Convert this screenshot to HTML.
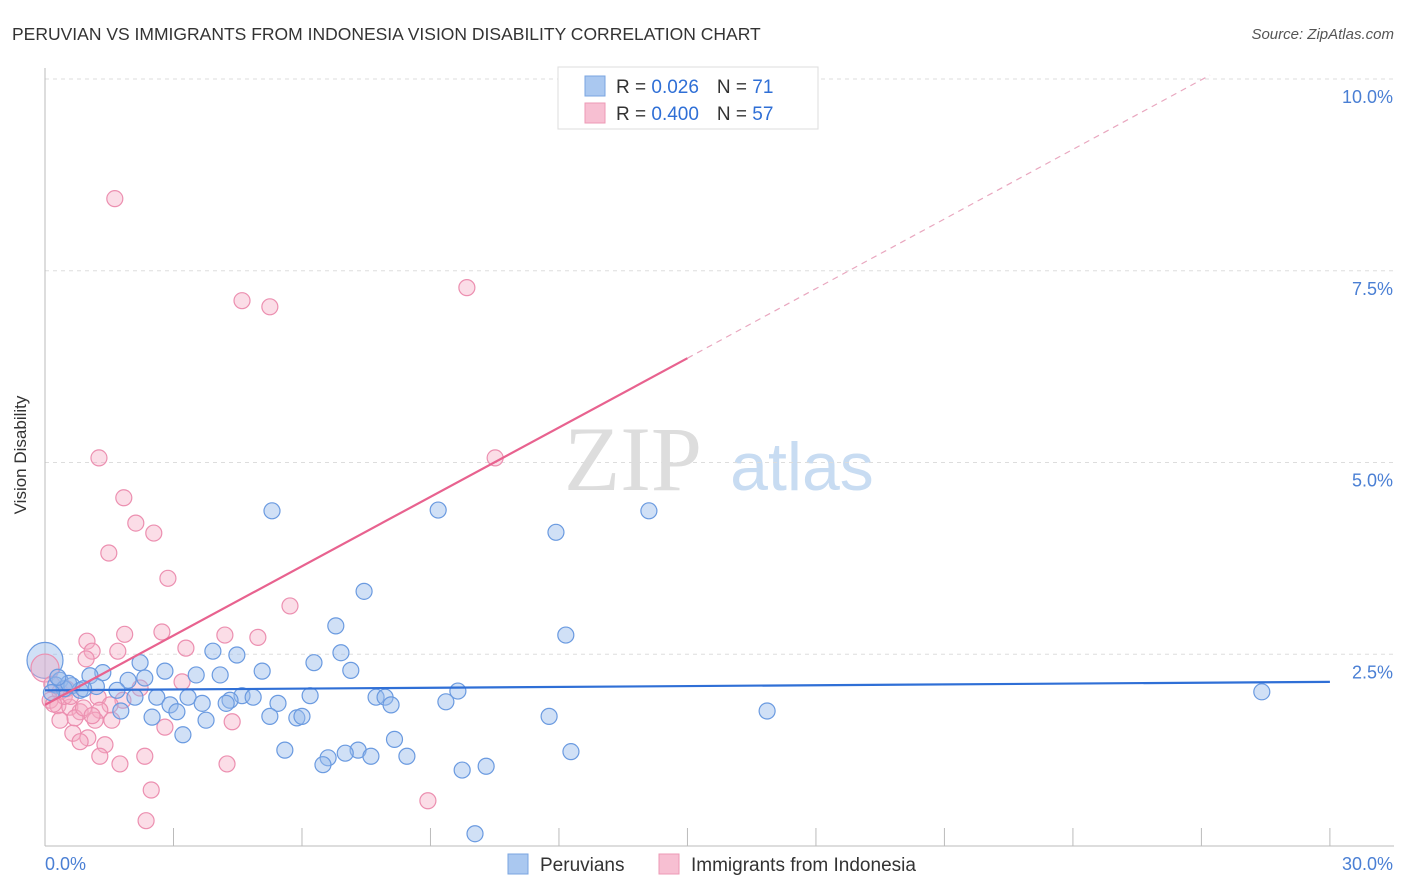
<!DOCTYPE html>
<html><head><meta charset="utf-8"><style>
body{margin:0;background:#fff;font-family:"Liberation Sans",sans-serif;}
#wrap{position:relative;width:1406px;height:892px;overflow:hidden;}
</style></head><body>
<div id="wrap">
<svg id="chart" width="1406" height="892">
<text x="12" y="40" font-size="17.5" fill="#333">PERUVIAN VS IMMIGRANTS FROM INDONESIA VISION DISABILITY CORRELATION CHART</text>
<text x="1394" y="39" font-size="15" fill="#555" font-style="italic" text-anchor="end">Source: ZipAtlas.com</text>
<text x="26" y="455" font-size="17" fill="#333" text-anchor="middle" transform="rotate(-90 26 455)">Vision Disability</text>
<text x="633" y="490" font-size="92" fill="#ddd" font-family="Liberation Serif" text-anchor="middle">ZIP</text>
<text x="802" y="490" font-size="68" fill="#c8dcf2" text-anchor="middle">atlas</text>
<g id="grid"></g><g id="ticks"></g><g id="pts"></g><g id="lines"></g>
<g>
<rect x="558" y="67" width="260" height="62" fill="#fff" stroke="#ddd"/>
<rect x="585" y="76" width="20" height="20" fill="#aac8f0" stroke="#7aa5e0"/>
<rect x="585" y="103" width="20" height="20" fill="#f7bfd2" stroke="#ec9ab5"/>
<text x="616" y="93" font-size="19" fill="#333">R = <tspan fill="#2f6fd6">0.026</tspan><tspan dx="18">N = </tspan><tspan fill="#2f6fd6">71</tspan></text>
<text x="616" y="120" font-size="19" fill="#333">R = <tspan fill="#2f6fd6">0.400</tspan><tspan dx="18">N = </tspan><tspan fill="#2f6fd6">57</tspan></text>
</g>
<g>
<rect x="508" y="854" width="20" height="20" fill="#aac8f0" stroke="#7aa5e0"/>
<text x="540" y="871" font-size="19" fill="#333">Peruvians</text>
<rect x="659" y="854" width="20" height="20" fill="#f7bfd2" stroke="#ec9ab5"/>
<text x="691" y="871" font-size="19" fill="#333">Immigrants from Indonesia</text>
</g>
</svg>
</div>
<script>
const xTicks=[0,3,6,9,12,15,18,21,24,27,30];
const yTicks=[2.5,5,7.5,10];
const yTickLabels=["2.5%","5.0%","7.5%","10.0%"];
const blueX=[5.30,9.18,11.93,14.10,7.45,6.79,12.16,6.91,6.28,7.14,4.48,3.92,5.07,2.22,2.80,3.53,4.09,1.35,1.05,2.33,1.94,0.35,0.63,0.82,1.68,2.10,2.61,3.34,4.60,4.86,4.32,3.67,4.23,5.44,6.19,7.73,7.94,8.08,9.36,9.64,2.92,3.08,1.77,2.50,3.76,5.25,5.88,6.00,11.77,16.86,28.41,3.22,5.60,8.16,7.31,7.01,6.61,6.49,7.61,8.45,12.28,9.74,10.30,10.04,0.25,0.45,0.15,0.55,0.3,1.2,0.9];
const blueY=[4.37,4.38,4.09,4.37,3.32,2.87,2.75,2.52,2.39,2.29,2.49,2.54,2.28,2.39,2.28,2.23,2.23,2.26,2.22,2.19,2.16,2.16,2.09,2.03,2.03,1.94,1.94,1.94,1.96,1.94,1.90,1.86,1.86,1.86,1.96,1.94,1.94,1.84,1.88,2.02,1.84,1.75,1.76,1.68,1.64,1.69,1.67,1.69,1.69,1.76,2.01,1.45,1.25,1.39,1.25,1.21,1.15,1.06,1.17,1.17,1.23,0.99,1.04,0.16,2.10,2.05,2.00,2.12,2.20,2.08,2.05];
const pinkX=[1.63,4.60,5.25,9.85,1.26,10.51,1.84,2.12,2.54,1.49,2.87,5.72,1.86,2.73,4.20,4.97,0.98,3.29,1.10,1.70,0.96,3.20,2.22,0.16,0.35,0.12,1.24,1.82,1.52,0.30,0.58,0.82,1.28,0.70,0.35,1.17,1.56,4.37,2.80,0.65,1.00,0.82,1.40,1.28,2.33,1.75,4.25,2.48,2.36,8.94,0.45,0.5,0.2,0.9,1.1,0.6];
const pinkY=[8.44,7.11,7.03,7.28,5.06,5.06,4.54,4.21,4.08,3.82,3.49,3.13,2.76,2.79,2.75,2.72,2.67,2.58,2.54,2.54,2.44,2.14,2.06,2.11,2.01,1.90,1.94,1.90,1.84,1.83,1.81,1.75,1.77,1.67,1.64,1.64,1.64,1.62,1.55,1.47,1.41,1.36,1.32,1.17,1.17,1.07,1.07,0.73,0.33,0.59,1.95,2.05,1.85,1.80,1.70,1.95];
const bigBlue=[0,2.42], bigPink=[0,2.32];
const blueLine=[[0,2.03],[30,2.14]];
const pinkLine=[[0,1.84],[15,6.36]];
const pinkDash=[[15,6.36],[27.2,10.05]];
const NS="http://www.w3.org/2000/svg";
const X=v=>45+v*42.83, Y=v=>846-v*76.7;
function mk(tag,attrs,parent){const e=document.createElementNS(NS,tag);for(const k in attrs)e.setAttribute(k,attrs[k]);document.getElementById(parent).appendChild(e);return e;}
yTicks.forEach((t,i)=>{
 const g=mk('line',{x1:45,x2:1394,y1:Y(t),y2:Y(t),stroke:'#ddd','stroke-dasharray':'4,4'},'grid');
 
 
 const l=mk('text',{x:1393,y:Y(t)+24,'font-size':18,fill:'#4a7fd4','text-anchor':'end'},'ticks');
 l.textContent=yTickLabels[i];
 
 
});
const ax=mk('line',{x1:45,x2:1394,y1:846,y2:846,stroke:'#bbb'},'grid');


const ay=mk('line',{x1:45,x2:45,y1:68,y2:846,stroke:'#bbb'},'grid');


xTicks.forEach(t=>{
 const e=mk('line',{x1:X(t),x2:X(t),y1:828,y2:846,stroke:'#bbb'},'grid');
 
 
});
const x0=mk('text',{x:45,y:870,'font-size':18,fill:'#4a7fd4'},'ticks');x0.textContent='0.0%';


const x1=mk('text',{x:1393,y:870,'font-size':18,fill:'#4a7fd4','text-anchor':'end'},'ticks');x1.textContent='30.0%';


function dot(x,y,r,blue,name){
 const c=mk('circle',{cx:X(x),cy:Y(y),r:r,fill:blue?'rgba(150,187,236,0.45)':'rgba(245,170,196,0.4)',stroke:blue?'#6a9ae0':'#ec8fb0','stroke-width':1.2},'pts');
 
 
}
dot(bigBlue[0],bigBlue[1],18,true,'peruvian-point-large');
dot(bigPink[0],bigPink[1],14,false,'indonesia-point-large');
pinkX.forEach((v,i)=>dot(v,pinkY[i],8,false,'indonesia-point'));
blueX.forEach((v,i)=>dot(v,blueY[i],8,true,'peruvian-point'));
function line(p,color,dash,name,w){
 const e=mk('line',{x1:X(p[0][0]),y1:Y(p[0][1]),x2:X(p[1][0]),y2:Y(p[1][1]),stroke:color,'stroke-width':w},'lines');
 if(dash)e.setAttribute('stroke-dasharray',dash);
 
 
}
line(blueLine,'#2f6fd6',null,'peruvian-trend-line',2.2);
line(pinkLine,'#e8628f',null,'indonesia-trend-line',2.2);
line(pinkDash,'#e9a7bf','6,5','indonesia-trend-extension',1.2);
</script>
</body></html>
